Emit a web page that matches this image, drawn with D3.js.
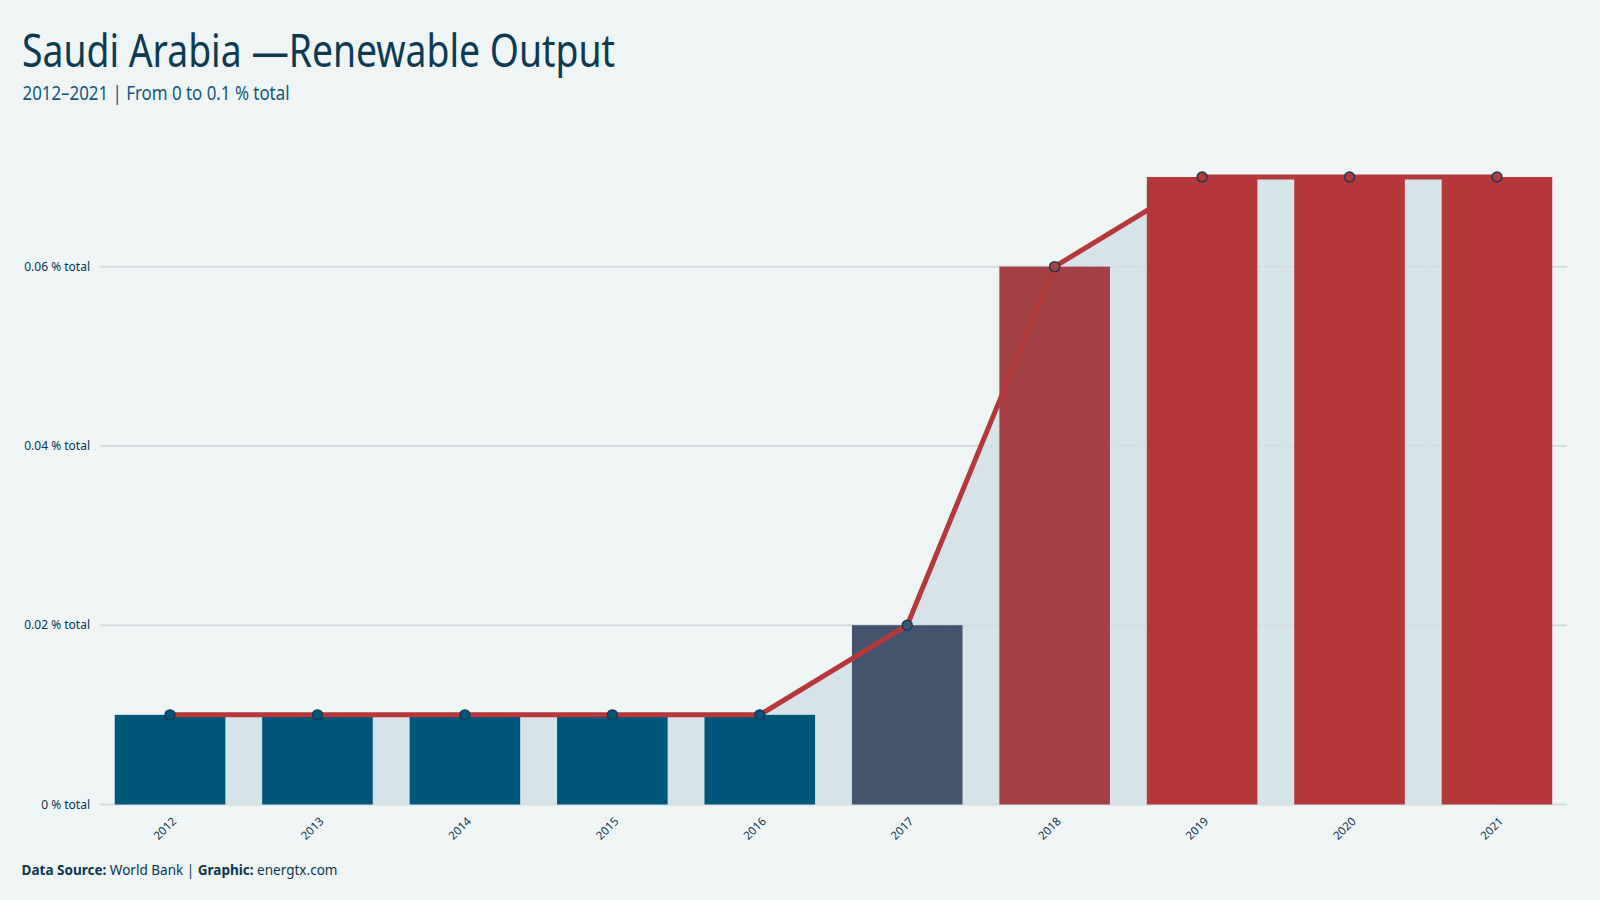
<!DOCTYPE html>
<html>
<head>
<meta charset="utf-8">
<script src="https://cdn.jsdelivr.net/npm/d3@7"></script>
<style>
  html, body { margin: 0; padding: 0; background: #eff5f5; }
  svg { display: block; }
  text { font-family: "Noto Sans", "DejaVu Sans", sans-serif; }
</style>
</head>
<body>
<div id="chart"></div>
<script>
// data
const years = ["2012", "2013", "2014", "2015", "2016", "2017", "2018", "2019", "2020", "2021"];
const shares = [0.01, 0.01, 0.01, 0.01, 0.01, 0.02, 0.06, 0.07, 0.07, 0.07];
const yTicks = [0, 0.02, 0.04, 0.06];

const W = 1600, H = 900;
const svg = d3.select("#chart").append("svg")
    .attr("width", W)
    .attr("height", H);

svg.append("rect").attr("width", W).attr("height", H).attr("fill", "#eff5f5");

// scales
const x = d3.scaleBand()
    .domain(years)
    .range([100, 1567])
    .paddingInner(0.25)
    .paddingOuter(0.1);

const y = d3.scaleLinear()
    .domain([0, 0.07])
    .range([804.5, 177]);

// bar colour follows the value
const color = d3.scaleLinear()
    .domain([0.01, 0.02, 0.06, 0.07])
    .range(["#00567a", "#44546e", "#a34043", "#b4383a"]);

const rows = years.map((yr, i) => ({ year: yr, value: shares[i] }));
const cx = d => x(d.year) + x.bandwidth() / 2;

// gridlines (solid, under everything)
svg.append("g")
    .selectAll("line")
    .data(yTicks)
    .join("line")
    .attr("x1", 100).attr("x2", 1567)
    .attr("y1", d => y(d)).attr("y2", d => y(d))
    .attr("stroke", "#d3dddd")
    .attr("stroke-width", 2);

// area under the line
const area = d3.area()
    .x(cx)
    .y0(y(0))
    .y1(d => y(d.value));

svg.append("path")
    .datum(rows)
    .attr("d", area)
    .attr("fill", "#d6e3e8");

// dotted grid over the area only
svg.append("defs").append("clipPath")
    .attr("id", "areaClip")
    .append("path")
    .datum(rows)
    .attr("d", area);

svg.append("g")
    .attr("clip-path", "url(#areaClip)")
    .selectAll("line")
    .data(yTicks.filter(t => t > 0))
    .join("line")
    .attr("x1", 100).attr("x2", 1567)
    .attr("y1", d => y(d)).attr("y2", d => y(d))
    .attr("stroke", "#bcc9cc")
    .attr("stroke-width", 1)
    .attr("stroke-dasharray", "1,2");

// bars
svg.append("g")
    .selectAll("rect")
    .data(rows)
    .join("rect")
    .attr("x", d => x(d.year))
    .attr("y", d => y(d.value))
    .attr("width", x.bandwidth())
    .attr("height", d => y(0) - y(d.value))
    .attr("fill", d => color(d.value));

// line
const line = d3.line()
    .x(cx)
    .y(d => y(d.value));

svg.append("path")
    .datum(rows)
    .attr("d", line)
    .attr("fill", "none")
    .attr("stroke", "#b5383a")
    .attr("stroke-width", 5)
    .attr("stroke-linejoin", "round");

// points
svg.append("g")
    .selectAll("circle")
    .data(rows)
    .join("circle")
    .attr("cx", cx)
    .attr("cy", d => y(d.value))
    .attr("r", 5)
    .attr("fill", d => color(d.value))
    .attr("stroke", "#123a52")
    .attr("stroke-width", 1.4);

// y tick labels
svg.append("g")
    .selectAll("text")
    .data(yTicks)
    .join("text")
    .attr("x", 90)
    .attr("y", d => y(d) + 4)
    .attr("text-anchor", "end")
    .attr("font-size", 12)
    .attr("fill", "#0b3550")
    .text(d => (d === 0 ? "0" : d3.format(".2f")(d)) + " % total");

// x tick labels
svg.append("g")
    .selectAll("text")
    .data(years)
    .join("text")
    .attr("transform", d => `translate(${x(d) + x.bandwidth() / 2 + 7},822) rotate(-45)`)
    .attr("text-anchor", "end")
    .attr("font-size", 11.5)
    .attr("fill", "#0b3550")
    .text(d => d);

// titles
svg.append("text")
    .attr("x", 22)
    .attr("y", 67)
    .attr("font-size", 46)
    .attr("fill", "#0c3a52")
    .attr("textLength", 593)
    .attr("lengthAdjust", "spacingAndGlyphs")
    .text("Saudi Arabia \u2014Renewable Output");

svg.append("text")
    .attr("x", 22.5)
    .attr("y", 100)
    .attr("font-size", 20)
    .attr("fill", "#15577c")
    .attr("textLength", 267)
    .attr("lengthAdjust", "spacingAndGlyphs")
    .text("2012\u20132021 | From 0 to 0.1 % total");

// footer
const foot = svg.append("text")
    .attr("x", 21.5)
    .attr("y", 875)
    .attr("font-size", 13.5)
    .attr("fill", "#0b3550")
    .attr("textLength", 316)
    .attr("lengthAdjust", "spacingAndGlyphs");
foot.append("tspan").attr("font-weight", "bold").text("Data Source:");
foot.append("tspan").text(" World Bank | ");
foot.append("tspan").attr("font-weight", "bold").text("Graphic:");
foot.append("tspan").text(" energtx.com");
</script>
</body>
</html>
